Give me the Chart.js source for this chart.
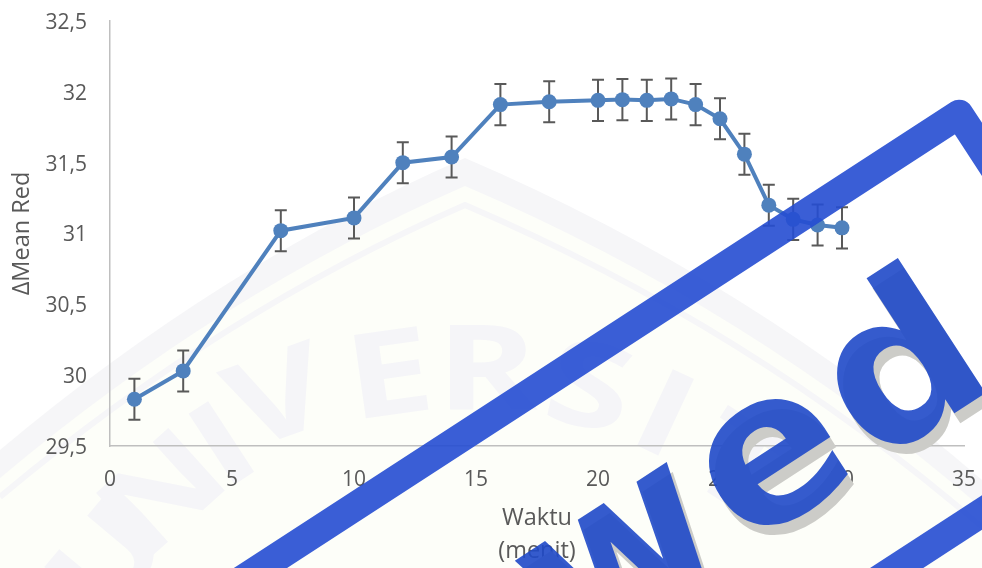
<!DOCTYPE html>
<html>
<head>
<meta charset="utf-8">
<script src="https://cdn.jsdelivr.net/npm/chart.js@4"></script>
<style>
html,body{margin:0;padding:0;background:#fff;}
#wrapper{width:982px;height:568px;}
</style>
</head>
<body>
<div id="wrapper"><canvas id="grafico" width="982" height="568"></canvas></div>
<script>
"use strict";
// dati
const waktu = [1,3,7,10,12,14,16,18,20,21,22,23,24,25,26,27,28,29,30];
const meanRed = [29.83,30.03,31.02,31.11,31.50,31.54,31.91,31.93,31.94,31.945,31.94,31.95,31.91,31.81,31.56,31.20,31.10,31.06,31.04];
const errori = [0.145,0.145,0.145,0.145,0.145,0.145,0.145,0.145,0.145,0.145,0.145,0.145,0.145,0.145,0.145,0.145,0.145,0.145,0.145];
const yTicks = [29.5,30,30.5,31,31.5,32,32.5];
const xTicks = [0,5,10,15,20,25,30,35];
const titoloX = ["Waktu","(menit)"];
const titoloY = "ΔMean Red";
const lettereStemma = [["U",112,565,-50],["N",166,498,-42],["I",226,450,-33],["V",280,403,-20],["E",390,381,-8],["R",487,376,0],["S",588,393,12],["I",662,420,25],["T",735,470,33]];

const testo = "#595959";
const blu = "#4f81bd";

// sagoma dello stemma, dy = scostamento verso il basso
function sagoma(c,dy){
    c.beginPath();
    c.moveTo(0,450+dy);
    c.quadraticCurveTo(220,265+dy,465,158+dy);
    c.quadraticCurveTo(750,280+dy,982,480+dy);
}

// sfondo: stemma chiaro dietro al grafico
const sfondo = {
    id:"sfondo",
    beforeDraw(chart){
        let c = chart.ctx;
        c.save();
        c.fillStyle = "#fff";
        c.fillRect(0,0,982,568);
        sagoma(c,0);
        c.lineTo(982,568);
        c.lineTo(0,568);
        c.closePath();
        c.fillStyle = "#f6f6f8";
        c.fill();
        sagoma(c,28);
        c.lineTo(982,568);
        c.lineTo(0,568);
        c.closePath();
        c.fillStyle = "#fdfef9";
        c.fill();
        sagoma(c,47);
        c.strokeStyle = "#f6f6f8";
        c.lineWidth = 6;
        c.stroke();
        c.fillStyle = "#f5f5f8";
        c.font = "bold 118px 'Open Sans'";
        c.textAlign = "center";
        c.textBaseline = "middle";
        for (const l of lettereStemma) {
            c.save();
            c.translate(l[1],l[2]);
            c.rotate(l[3]*Math.PI/180);
            c.scale(1.3,1);
            c.fillText(l[0],0,0);
            c.restore();
        }
        c.restore();
    }
};

// barre di errore, sotto ai punti
const barreErrore = {
    id:"barreErrore",
    beforeDatasetsDraw(chart){
        let c = chart.ctx;
        let sx = chart.scales.x;
        let sy = chart.scales.y;
        c.save();
        c.strokeStyle = "#595959";
        c.lineWidth = 2;
        for (let i=0;i<waktu.length;i++) {
            let x = sx.getPixelForValue(waktu[i]);
            let y1 = sy.getPixelForValue(meanRed[i]+errori[i]);
            let y2 = sy.getPixelForValue(meanRed[i]-errori[i]);
            c.beginPath();
            c.moveTo(x,y1); c.lineTo(x,y2);
            c.moveTo(x-6,y1); c.lineTo(x+6,y1);
            c.moveTo(x-6,y2); c.lineTo(x+6,y2);
            c.stroke();
        }
        c.restore();
    }
};

// timbro blu sopra a tutto
const timbro = {
    id:"timbro",
    afterDraw(chart){
        let c = chart.ctx;
        let a = -33*Math.PI/180;
        c.save();
        c.translate(960,100);
        c.rotate(a);
        // origine vicino allo spigolo in alto a destra del riquadro
        c.globalAlpha = 0.9;
        c.strokeStyle = "#254dd1";
        c.lineWidth = 29;
        c.lineJoin = "round";
        c.beginPath();
        c.moveTo(-1000,11.5);
        c.lineTo(-8.5,11.5);
        c.lineTo(-8.5,800);
        c.stroke();
        c.beginPath();
        c.moveTo(-1000,358);
        c.lineTo(400,358);
        c.stroke();
        c.restore();

        c.save();
        c.font = "bold 212px 'DejaVu Sans'";
        c.letterSpacing = "10px";
        c.textAlign = "right";
        c.textBaseline = "alphabetic";
        c.save();
        c.translate(1009+6,378+10);
        c.rotate(a);
        c.fillStyle = "#ccccc8";
        c.fillText("Reviewed",0,0);
        c.restore();
        c.translate(1009,378);
        c.rotate(a);
        c.globalAlpha = 0.9;
        c.fillStyle = "#1f49c8";
        c.fillText("Reviewed",0,0);
        c.restore();
    }
};

new Chart(document.getElementById("grafico"), {
    type:"line",
    data:{
        datasets:[{
            label:titoloY,
            data:waktu.map((x,i)=>({x:x,y:meanRed[i]})),
            borderColor:blu,
            backgroundColor:blu,
            borderWidth:4,
            pointRadius:7.5,
            pointHoverRadius:7.5,
            pointBackgroundColor:blu,
            pointBorderColor:blu,
            pointBorderWidth:0,
            tension:0
        }]
    },
    options:{
        responsive:false,
        animation:false,
        layout:{autoPadding:false,padding:{top:21,right:18,left:8,bottom:0}},
        plugins:{legend:{display:false},tooltip:{enabled:false}},
        scales:{
            x:{
                type:"linear",
                min:0,max:35,
                afterBuildTicks(s){ s.ticks = xTicks.map(v=>({value:v})); },
                afterFit(s){ s.height = 122; s.paddingLeft = 0; s.paddingRight = 0; },
                grid:{display:false,drawTicks:false},
                border:{color:"#bfbfbf",width:1.5},
                ticks:{color:testo,font:{family:"'Open Sans'",size:21},padding:21,maxRotation:0},
                title:{display:true,text:titoloX,color:testo,font:{family:"'Open Sans'",size:23.5,lineHeight:1.4},padding:{top:0,bottom:0}}
            },
            y:{
                min:29.5,max:32.5,
                afterBuildTicks(s){ s.ticks = yTicks.map(v=>({value:v})); },
                afterFit(s){ s.width = 102; s.paddingTop = 0; s.paddingBottom = 0; },
                grid:{display:false,drawTicks:false},
                border:{color:"#bfbfbf",width:1.5},
                ticks:{color:testo,font:{family:"'Open Sans'",size:21},padding:23,labelOffset:2,
                    callback:v=>String(v).replace(".",",")},
                title:{display:true,text:titoloY,color:testo,font:{family:"'Open Sans'",size:23.5},padding:{top:0,bottom:0}}
            }
        }
    },
    plugins:[sfondo,barreErrore,timbro]
});
</script>
</body>
</html>
